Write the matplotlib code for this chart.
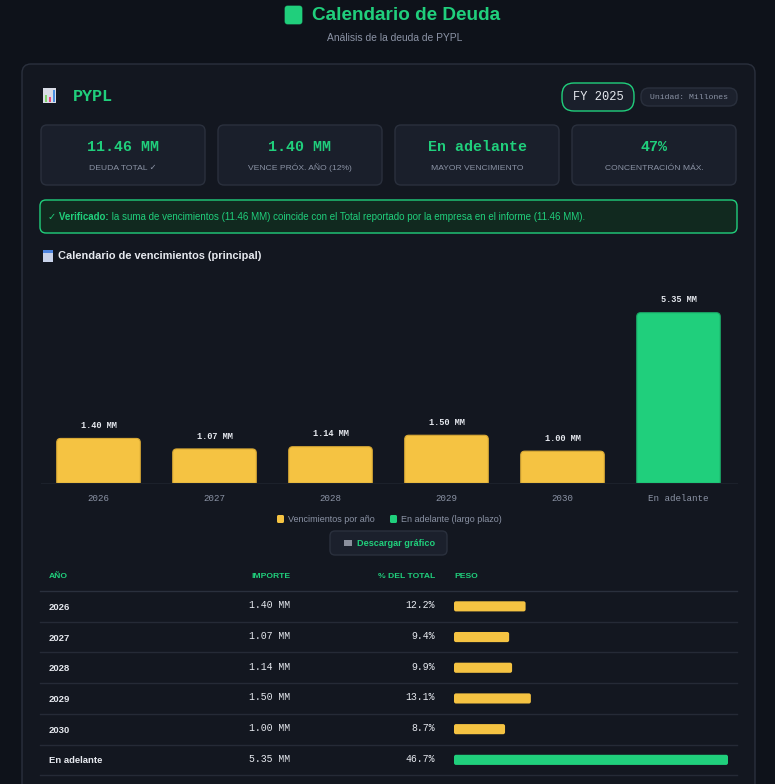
import matplotlib
matplotlib.use('agg')
import matplotlib.pyplot as plt
from matplotlib.patches import FancyBboxPatch, Rectangle

# data
years = ['2026', '2027', '2028', '2029', '2030', 'En adelante']
amounts = [1.40, 1.07, 1.14, 1.50, 1.00, 5.35]
pct_total = [12.2, 9.4, 9.9, 13.1, 8.7, 46.7]
is_long_term = [False, False, False, False, False, True]

kpi_values = ['11.46 MM', '1.40 MM', 'En adelante', '47%']
kpi_labels = ['DEUDA TOTAL \u2713', 'VENCE PRÓX. AÑO (12%)', 'MAYOR VENCIMIENTO', 'CONCENTRACIÓN MÁX.']

table_head = ['AÑO', 'IMPORTE', '% DEL TOTAL', 'PESO']

GREEN = '#20cf7c'
YELLOW = '#f5c342'
PAGE = '#0e121a'
CARD = '#131720'
BOX = '#1a1f2b'
EDGE = '#2a303d'
MUTED = '#8b93a5'
LIGHT = '#e6e9ef'

SANS = ['Liberation Sans', 'DejaVu Sans']
MONO = ['Liberation Mono', 'DejaVu Sans Mono']

W, H = 775, 784
fig = plt.figure(figsize=(W / 100, H / 100), dpi=100)
fig.patch.set_facecolor(PAGE)

# pixel canvas for the dashboard chrome
bg = fig.add_axes([0, 0, 1, 1])
bg.set_xlim(0, W)
bg.set_ylim(H, 0)
bg.axis('off')


def pt(px):
    return px * 0.72


def rbox(x, y, w, h, r, fc, ec, lw=1.0, z=1):
    p = FancyBboxPatch((x, y), w, h, boxstyle=f'round,pad=0,rounding_size={r}',
                       fc=fc, ec=ec, lw=lw, zorder=z)
    bg.add_patch(p)
    return p


# header
rbox(285, 6, 17, 18, 2.5, GREEN, GREEN, 0.5, 2)
bg.text(312, 15, 'Calendario de Deuda', color=GREEN, fontsize=pt(19), fontweight='bold',
        family=SANS, va='center', ha='left')
bg.text(395, 38, 'Análisis de la deuda de PYPL', color=MUTED, fontsize=pt(10.2),
        family=SANS, va='center', ha='center')

# card
rbox(22, 64, 733, 760, 9, CARD, EDGE, 1.0, 1)

# chart icon next to ticker
bg.add_patch(Rectangle((43, 88), 13, 15, fc='#d9dce6', ec='none', zorder=3))
bg.add_patch(Rectangle((44.5, 95), 2.5, 7, fc='#7fd36b', ec='none', zorder=4))
bg.add_patch(Rectangle((48.5, 97), 2.5, 5, fc='#e8487a', ec='none', zorder=4))
bg.add_patch(Rectangle((52.5, 90), 2.5, 12, fc='#4a8fe0', ec='none', zorder=4))
bg.text(73, 96, 'PYPL', color=GREEN, fontsize=pt(16.8), fontweight='bold', family=MONO,
        va='center', ha='left')

# pills
rbox(562, 83, 72, 28, 12, BOX, GREEN, 1.0, 2)
bg.text(598, 97, 'FY 2025', color=LIGHT, fontsize=pt(12), family=MONO, va='center', ha='center', zorder=3)
rbox(641, 88, 96, 18, 8, '#1c212d', EDGE, 1.0, 2)
bg.text(689, 97, 'Unidad: Millones', color=MUTED, fontsize=pt(8.2), family=MONO, va='center', ha='center', zorder=3)

# KPI boxes
for i, (v, lab) in enumerate(zip(kpi_values, kpi_labels)):
    x0 = 41 + i * 177
    rbox(x0, 125, 164, 60, 6, BOX, EDGE, 1.0, 2)
    bg.text(x0 + 82, 147, v, color=GREEN, fontsize=pt(15), fontweight='bold', family=MONO,
            va='center', ha='center', zorder=3)
    bg.text(x0 + 82, 168, lab, color=MUTED, fontsize=pt(8.5), family=SANS,
            va='center', ha='center', zorder=3)

# verified banner
rbox(40, 200, 697, 33, 6, '#11291f', GREEN, 1.0, 2)
t = bg.text(48, 217, '\u2713 Verificado:', color=GREEN, fontsize=pt(9.8), fontweight='bold',
            family=SANS, va='center', ha='left', zorder=3)
bg.annotate(' la suma de vencimientos (11.46 MM) coincide con el Total reportado por la empresa en el informe (11.46 MM).',
            xycoords=t, xy=(1, 0.5), va='center', ha='left', color=GREEN,
            fontsize=pt(9.8), family=SANS, zorder=3)

# section title with calendar icon
bg.add_patch(Rectangle((43, 250), 10, 12, fc='#c9d3ea', ec='none', zorder=3))
bg.add_patch(Rectangle((43, 250), 10, 3, fc='#4f86e0', ec='none', zorder=4))
bg.text(58, 256, 'Calendario de vencimientos (principal)', color=LIGHT, fontsize=pt(11),
        fontweight='bold', family=SANS, va='center', ha='left')

# bar chart
cx0, cx1, cy0, cy1 = 40.5, 736.5, 292, 483
ax = fig.add_axes([cx0 / W, 1 - cy1 / H, (cx1 - cx0) / W, (cy1 - cy0) / H])
ax.set_facecolor('none')
ymax = 6
colors = [GREEN if lt else YELLOW for lt in is_long_term]
edges = ['#1aa866' if lt else '#d9a935' for lt in is_long_term]
bars = ax.bar(range(len(years)), amounts, width=0.72, color=colors, edgecolor=edges, linewidth=0.8)
# swap the square bars for ones with rounded tops (bottom clipped by the axes)
px_x = len(years) / (cx1 - cx0)
px_y = ymax / (cy1 - cy0)
for b, fc, ec in zip(bars, colors, edges):
    b.set_visible(False)
    r = 4 * px_x
    rb = FancyBboxPatch((b.get_x(), -0.3), b.get_width(), b.get_height() + 0.3,
                        boxstyle=f'round,pad=0,rounding_size={r}', mutation_aspect=px_y / px_x,
                        fc=fc, ec=ec, lw=0.8)
    ax.add_patch(rb)
for b, v in zip(bars, amounts):
    ax.annotate(f'{v:.2f} MM', (b.get_x() + b.get_width() / 2, b.get_height()),
                xytext=(0, 6), textcoords='offset points', ha='center', va='bottom',
                color=LIGHT, fontsize=pt(8.6), fontweight='bold', family=MONO)
ax.set_xlim(-0.5, len(years) - 0.5)
ax.set_ylim(0, ymax)
ax.set_xticks(range(len(years)))
ax.set_xticklabels(years, family=MONO, fontsize=pt(9.1), color=MUTED)
ax.tick_params(axis='x', length=0, pad=8)
ax.set_yticks([])
for s in ['top', 'right', 'left']:
    ax.spines[s].set_visible(False)
ax.spines['bottom'].set_color('#1c212b')

# legend
bg.add_patch(FancyBboxPatch((277, 515), 7, 8, boxstyle='round,pad=0,rounding_size=1.5', fc=YELLOW, ec='none'))
bg.text(288, 519, 'Vencimientos por año', color=MUTED, fontsize=pt(9), family=SANS, va='center')
bg.add_patch(FancyBboxPatch((390, 515), 7, 8, boxstyle='round,pad=0,rounding_size=1.5', fc=GREEN, ec='none'))
bg.text(401, 519, 'En adelante (largo plazo)', color=MUTED, fontsize=pt(9), family=SANS, va='center')

# download button
rbox(330, 531, 117, 24, 5, '#1b202c', EDGE, 1.0, 2)
bg.add_patch(Rectangle((344, 540), 8, 6, fc='#8a8f9c', ec='none', zorder=3))
bg.text(357, 543, 'Descargar gráfico', color=GREEN, fontsize=pt(9.2), fontweight='bold',
        family=SANS, va='center', ha='left', zorder=3)

# table
head_y = 577
hk = dict(color=GREEN, fontsize=pt(8.5), fontweight='bold', family=SANS, va='center')
bg.text(49, head_y, table_head[0], **hk)
bg.text(290, head_y, table_head[1], ha='right', **hk)
bg.text(435, head_y, table_head[2], ha='right', **hk)
bg.text(454, head_y, table_head[3], **hk)

row0, row_h = 591, 30.7
bg.plot([40, 737], [row0, row0], color='#2a303d', lw=1)
for i, (yr, v, p) in enumerate(zip(years, amounts, pct_total)):
    yc = row0 + row_h * (i + 0.5)
    bg.text(49, yc + 1, yr, color=LIGHT, fontsize=pt(9.5), fontweight='bold', family=SANS, va='center')
    bg.text(290, yc - 1, f'{v:.2f} MM', color=LIGHT, fontsize=pt(9.9), family=MONO, va='center', ha='right')
    bg.text(435, yc - 1, f'{p:.1f}%', color=LIGHT, fontsize=pt(9.9), family=MONO, va='center', ha='right')
    yl = row0 + row_h * (i + 1)
    bg.plot([40, 737], [yl, yl], color='#252a36', lw=1)

# weight bars in the table, scaled to the largest share
tx0, tx1 = 454, 728
n = len(years)
tab = fig.add_axes([tx0 / W, 1 - (row0 + row_h * n) / H, (tx1 - tx0) / W, row_h * n / H])
tab.set_facecolor('none')
wb = tab.barh(range(n), pct_total, height=0.33, color=colors, edgecolor='none')
tab.set_xlim(0, max(pct_total))
tab.set_ylim(n - 0.5, -0.5)
tab.axis('off')
tpx_x = max(pct_total) / (tx1 - tx0)
tpx_y = n / (row_h * n)
for b, fc in zip(wb, colors):
    b.set_visible(False)
    tab.add_patch(FancyBboxPatch((b.get_x(), b.get_y()), b.get_width(), b.get_height(),
                                 boxstyle=f'round,pad=0,rounding_size={2 * tpx_x}',
                                 mutation_aspect=tpx_y / tpx_x, fc=fc, ec='none'))

fig.savefig('out.png', dpi=100, facecolor=PAGE)
